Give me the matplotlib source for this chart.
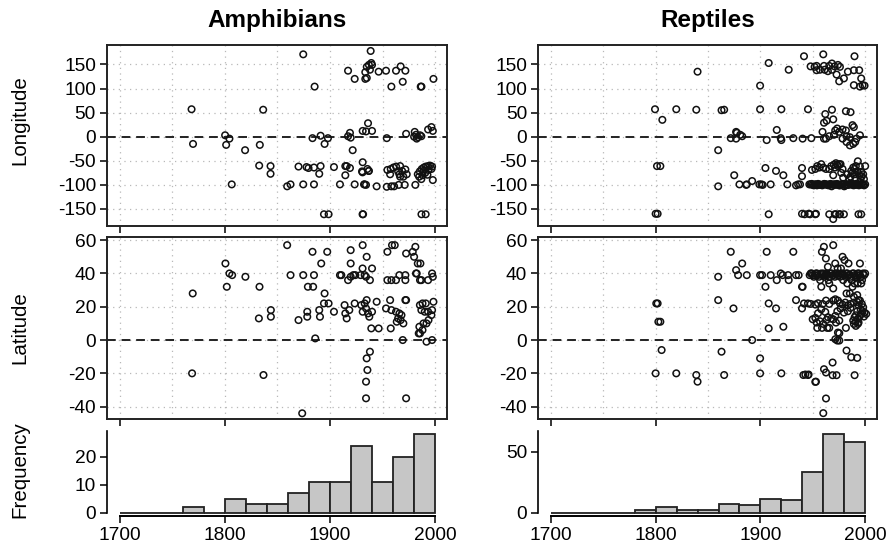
import matplotlib
matplotlib.use('Agg')
import matplotlib.pyplot as plt
from matplotlib.ticker import FixedLocator

plt.rcParams['font.family'] = ['Liberation Sans', 'DejaVu Sans']
plt.rcParams['axes.unicode_minus'] = False

# ---------------- data ----------------
titles = ["Amphibians", "Reptiles"]
row_labels = ["Longitude", "Latitude", "Frequency"]

hist_bins = [1700, 1720, 1740, 1760, 1780, 1800, 1820, 1840, 1860, 1880, 1900, 1920, 1940, 1960, 1980]
amph_counts = [0, 0, 0, 2, 0, 5, 3, 3, 7, 11, 11, 24, 11, 20, 28]
rept_counts = [0, 0, 0, 0, 2, 5, 2, 2, 7, 6, 11, 10, 33, 64, 58]

amph_lon_year = [1768.4, 1769.8, 1800.3, 1804.4, 1801.3, 1806.6, 1819.3, 1836.5, 1833.3, 1832.7, 1843.5, 1843.5,
                 1859.3, 1862.5, 1874.6, 1874.6, 1870.1, 1877.7, 1879.6, 1883.4, 1885.4, 1884.8, 1884.8, 1889.8,
                 1891.1, 1891.1, 1894.9, 1898.1, 1894.3, 1898.7,
                 1903.8, 1909.5, 1914.6, 1915.9, 1919.0, 1914.6, 1923.5, 1917.2, 1919.0, 1919.7, 1921.6,
                 1917.2, 1923.5, 1933.6, 1935.0, 1937.0, 1939.3, 1940.0, 1938.0, 1933.6, 1935.0, 1938.7, 1946.3,
                 1953.3, 1958.4, 1962.8, 1967.2, 1971.7, 1969.2, 1986.3, 1987.0, 1998.4,
                 1931.1, 1934.3, 1940.0, 1936.2,
                 1931.1, 1930.5, 1935.6, 1936.8, 1933.0, 1934.3, 1944.4, 1932.4, 1931.0, 1937.0,
                 1954.0,
                 1972.4, 1980.6, 1981.8, 1983.7, 1985.6, 1986.9, 1980.0, 1982.5,
                 1993.3, 1996.5, 1997.8,
                 1954.0, 1958.4, 1961.0, 1965.4, 1971.1, 1981.2,
                 1954.6, 1957.8, 1957.2, 1960.3, 1962.9, 1964.8, 1966.7, 1968.6, 1966.0, 1969.8, 1971.7, 1973.0, 1966.7,
                 1983.5, 1985.4, 1987.3, 1989.2, 1991.1, 1993.3, 1995.2, 1997.1, 1984.8, 1988.0, 1990.6, 1993.6,
                 1996.5, 1986.9, 1997.8, 1992.7, 1988.9,
                 1987.0, 1991.0, 1931.0, 1931.5]
amph_lon = [57, -15, 3, -4, -17, -99, -28, 56, -17, -60, -61, -77,
            -103, -99, -99, 171, -62, -63, -65, -3, 104, -99, -64, -77,
            -61, 2, -15, -3, -161, -161,
            -63, -99, -61, -61, -65, -80, -99, 1, 8, -2, -28,
            137, 120, 134, 145, 149, 153, 149, 139, 120, 122, 178, 135,
            137, 104, 137, 146, 137, 114, 104, 104, 120,
            12, 11, 12, 28,
            -53, -72, -67, -71, -99, -100, -103, -99, -74, -71,
            -3,
            6, 10, 4, -1, 3, 1, 0, -4,
            15, 20, 12,
            -104, -103, -103, -100, -100, -100,
            -69, -67, -78, -64, -62, -72, -61, -71, -78, -83, -68, -78, -83,
            -78, -72, -67, -64, -62, -61, -60, -62, -83, -80, -75, -69,
            -67, -88, -90, -79, -71,
            -161, -161, -161, -161]

amph_lat_year = [1769.5, 1768.9, 1800.6, 1804.4, 1807.0, 1801.9, 1819.6, 1833.0, 1832.4, 1843.8, 1843.8, 1836.8,
                 1859.3, 1862.5, 1870.1, 1874.6, 1873.6,
                 1883.4, 1884.8, 1879.0, 1884.0, 1878.4, 1878.4, 1886.0, 1889.8, 1890.5, 1891.7, 1894.9, 1894.3,
                 1898.7, 1897.4, 1903.8,
                 1909.5, 1910.8, 1917.2, 1919.7, 1922.2, 1924.1, 1919.7, 1919.7, 1931.1, 1934.9, 1931.0, 1933.0,
                 1938.0, 1940.0, 1929.1, 1934.3,
                 1913.9, 1914.6, 1915.9, 1918.4, 1923.5, 1929.8, 1933.0, 1934.3, 1936.2, 1937.4, 1934.9, 1940.0,
                 1944.4, 1931.1,
                 1939.3, 1946.3, 1957.8,
                 1938.0, 1934.9, 1935.6, 1934.3, 1934.3, 1972.4,
                 1954.6, 1959.0, 1961.6,
                 1954.6, 1958.4, 1962.8, 1966.0, 1971.7, 1971.7, 1981.8, 1982.5, 1985.6, 1993.3, 1997.1, 1997.8, 1986.9,
                 1972.4, 1978.7, 1980.0, 1981.2, 1983.5, 1986.0,
                 1953.3, 1958.4, 1962.8, 1966.0, 1964.8, 1967.2, 1969.8, 1971.7, 1972.4, 1957.2, 1963.5, 1968.0, 1969.2,
                 1985.5, 1988.0, 1991.1, 1986.9, 1990.1, 1993.3, 1996.5, 1997.1, 1998.4, 1993.7, 1991.8, 1988.9,
                 1985.0, 1985.6, 1988.0, 1991.8, 1997.1, 1984.4]
amph_lat = [28, -20, 46, 40, 39, 32, 38, 32, 13, 18, 14, -21,
            57, 39, 12, 39, -44,
            53, 39, 32, 32, 17, 14, 1, 18, 14, 46, 28, 22,
            22, 53, 17,
            39, 39, 36, 38, 39, 39, 54, 46, 57, 50, 43, 39,
            36, 43, 39, 38,
            21, 16, 13, 18, 22, 21, 22, 19, 16, 14, 24, 17,
            23, 17,
            7, 7, 7,
            -7, -11, -18, -25, -35, -35,
            53, 57, 57,
            36, 36, 36, 39, 39, 36, 40, 40, 36, 36, 40, 38, 36,
            52, 53, 50, 56, 46, 46,
            19, 18, 17, 16, 13, 12, 10, 24, 24, 24, 11, 15, 0,
            21, 22, 22, 18, 17, 17, 15, 18, 23, 12, 10, 10,
            8, 4, 6, -1, 0, 4]

rept_lon_year = [1799.4, 1819.7, 1838.8, 1806.4, 1840.0, 1801.3, 1804.5, 1800.0, 1801.9,
                 1859.7, 1859.7, 1862.9, 1865.4, 1871.7, 1876.8, 1876.8, 1882.6, 1875.0, 1880.0, 1887.0, 1892.1,
                 1899.7, 1899.7, 1899.0, 1901.0, 1907.9, 1906.0, 1904.8, 1909.8, 1914.9, 1915.6, 1920.0, 1919.4,
                 1920.0, 1921.9, 1925.7, 1927.0, 1931.4, 1934.0, 1936.0, 1937.8, 1939.7, 1939.7, 1941.6, 1945.4,
                 1948.6, 1949.2, 1939.7, 1946.0, 1953.0, 1947.9,
                 1960.0, 1989.8,
                 1951.7, 1953.6, 1956.8, 1961.3, 1964.4, 1965.7, 1968.3, 1970.8, 1974.0, 1975.9, 1972.7, 1975.2,
                 1979.7, 1983.5, 1989.2, 1994.3, 1996.2, 1989.2, 1995.0, 1997.5, 1999.4, 1968.3, 1953.6, 1960.7,
                 1961.9, 1968.3, 1981.6, 1986.0,
                 1960.7, 1963.2, 1969.5, 1959.3, 1962.6, 1971.4, 1973.3, 1975.2, 1978.4, 1981.6, 1982.2, 1985.4,
                 1989.2, 1987.9, 1965.7, 1970.2,
                 1978.4, 1982.2, 1985.4, 1988.6, 1990.5, 1991.7, 1995.0, 1960.7, 1940.3, 1880.7, 1877.5,
                 1886.4, 1902.2, 1946.7, 1952.4, 1954.3, 1956.2, 1958.1, 1960.0, 1962.6, 1965.7, 1969.5, 1971.4,
                 1973.3, 1975.2, 1977.1, 1979.0, 1982.9, 1984.8, 1986.0, 1987.9, 1989.8, 1991.1, 1993.0, 1995.0,
                 1996.8, 1998.8, 2000.0,
                 1989.9, 1992.4, 1994.3, 1996.2, 1998.1, 1991.1, 1995.6, 1988.6, 1986.7, 1967.6, 1970.2, 1972.1,
                 1974.0, 1976.5, 1978.4,
                 1948, 1950, 1952, 1954, 1956, 1958, 1960, 1962, 1964, 1966, 1968, 1970, 1972, 1974,
                 1976, 1978, 1980, 1982, 1984, 1986, 1988, 1990, 1992, 1994, 1996, 1998, 2000,
                 1949, 1951, 1953, 1955, 1957, 1959, 1961, 1963, 1965, 1967, 1969, 1971, 1973, 1975,
                 1977, 1979, 1981, 1983, 1985, 1987, 1989, 1991, 1993, 1995, 1997, 1999,
                 1907.9, 1942.2, 1947.3, 1952.4, 1965.7, 1969.5, 1972.0, 1975.2, 1979.7, 1993.6, 1996.2, 1976.0,
                 1971.0]
rept_lon = [57, 57, 56, 35, 135, -61, -61, -160, -160,
            -28, -103, 55, 56, -3, 10, -4, 1, -80, -99, -99, -92,
            106, 57, -99, -99, 153, -7, -65, -99, -71, 14, 57, -3,
            -7, -80, -99, 139, -3, -101, -99, -99, -65, -82, 167, 57,
            -3, -69, -160, -160, -160, 146,
            171, 167,
            145, 138, 139, 139, 136, 147, 152, 146, 149, 145, 129, 115,
            121, 135, 138, 138, 121, 107, 104, 107, 106, 139, 147, 147,
            47, 56, 53, 51,
            29, 33, 36, 10, -4, 13, 17, 10, 15, 13, 1, -1,
            20, 24, 1, 4,
            -4, -11, -18, -15, -11, -4, 3, -4, -4, 4, 8,
            -100, -100, -99, -67, -61, -64, -57, -64, -67, -67, -80, -64,
            -58, -57, -75, -85, -78, -88, -83, -75, -67, -61, -51, -62,
            -82, -88, -61,
            -78, -72, -80, -73, -78, -87, -89, -64, -71, -61, -58, -55,
            -61, -57, -67,
            -99, -100, -99, -101, -99, -100, -99, -99, -100, -99, -103, -99, -100, -99,
            -101, -99, -103, -99, -100, -99, -99, -100, -99, -101, -99, -100, -99,
            -98, -101, -99, -98, -100, -101, -98, -99, -101, -98, -100, -99, -98, -101,
            -99, -98, -101, -100, -98, -99, -101, -98, -100, -99, -98, -101,
            -161, -161, -161, -161, -161, -171, -161, -161, -161, -161, -161, -161,
            -161]

rept_lat_year = [1800.6, 1801.9, 1802.6, 1804.5, 1805.7, 1800.0, 1819.7, 1838.8, 1840.0, 1859.7, 1859.7, 1871.7,
                 1862.9, 1865.4, 1874.3,
                 1876.8, 1878.7, 1882.6, 1887.0, 1892.1, 1899.7, 1901.6, 1906.0, 1904.8, 1907.9, 1907.9, 1899.7,
                 1899.7, 1909.8, 1915.6, 1919.4, 1921.3, 1926.4, 1927.0, 1914.9, 1921.9, 1920.0, 1931.4, 1934.0,
                 1936.5, 1939.7, 1934.0, 1939.7, 1941.6, 1945.4, 1941.0, 1945.4, 1953.0, 1940.3,
                 1947, 1949, 1950, 1952, 1954, 1955, 1957, 1959, 1960, 1962, 1964, 1965, 1967, 1969, 1970, 1972,
                 1974, 1975, 1977, 1979, 1980, 1982, 1984, 1985, 1987, 1989, 1990, 1992, 1994, 1995, 1997, 1999, 2000,
                 1948, 1951, 1953, 1956, 1958, 1961, 1963, 1966, 1968, 1971, 1973, 1976, 1978, 1981, 1983, 1986,
                 1988, 1991, 1993, 1996, 1998,
                 1958.7, 1960.6, 1962.5, 1969.5, 1964.4, 1971.4, 1978.4, 1980.3, 1984.1, 1995.0, 1976.9, 1973.7,
                 1958.1, 1969.5, 1965.7, 1982.9, 1987.9, 1989.8, 1993.0, 1996.2, 1985.4, 1989.2, 1992.4, 1993.6, 1982.2,
                 1948.0, 1952.4, 1955.0, 1959.4, 1962.6, 1965.7, 1969.5, 1971.5, 1974.0, 1975.9, 1978.4, 1981.0,
                 1983.5, 1986.0, 1989.2, 1992.4, 1995.0, 1996.8, 1998.1, 1999.4, 2001.0, 1996.2, 1992.4, 1989.9,
                 1991.1, 1993.0, 1988.6, 1986.0, 1983.5, 1979.7, 1976.5, 1973.4, 1971.5, 1967.6, 1964.5, 1961.9,
                 1958.1, 1955.0, 1952.4, 1949.9, 1953.7, 1956.8, 1960.0, 1963.2, 1969.5, 1972.1, 1975.3,
                 1954.3, 1958.8, 1963.8, 1965.7, 1974.0, 1975.3, 1981.6, 1971.5, 1973.4, 1975.3,
                 1982.2, 1986.7, 1992.4, 1968.9, 1960.7, 1962.6, 1968.9, 1972.7, 1989.9, 1952.4, 1962.6, 1960.0,
                 1946.0, 1942.9,
                 1993.7, 1995.6, 1997.5, 1991.1, 1993.0, 1995.0, 1998.8, 1989.2, 1991.1, 1993.7]
rept_lat = [22, 22, 11, 11, -6, -20, -20, -21, -25, 24, 38, 53,
            -7, -21, 19,
            42, 39, 46, 39, 0, 39, 39, 53, 32, 22, 7, -11,
            -20, 39, 36, 40, 39, 39, 36, 19, 8, -20, 53, 39,
            39, 32, 24, 19, 22, 22, -21, -21, -25, 32,
            39, 40, 39, 39, 40, 39, 36, 39, 40, 39, 39, 36, 40, 39, 39, 40,
            39, 39, 40, 36, 39, 40, 39, 39, 36, 40, 39, 39, 40, 39, 36, 39, 40,
            40, 38, 40, 38, 40, 38, 40, 38, 40, 38, 40, 38, 40, 38, 40, 38,
            40, 38, 40, 38, 40,
            53, 56, 49, 57, 44, 46, 50, 48, 46, 46, 43, 43,
            32, 31, 34, 34, 32, 34, 34, 34, 28, 26, 27, 24, 28,
            21.7, 21.3, 22.1, 21.7, 23.7, 21.7, 23.7, 24.5, 23.7, 22.1, 21.3, 22.5,
            20.9, 21.7, 22.5, 22.9, 23.7, 21.7, 19.7, 16.5, 15.7, 15.7, 17.3, 13.7,
            11.3, 9.7, 11.7, 19.3, 17.3, 16.5, 18.9, 17.3, 14.5, 12.9, 13.7, 16.9,
            18.5, 16.1, 13.3, 12.5, 10.5, 11.3, 9.7, 12.1, 12.5, 10.5, 11.7,
            7.3, 7.3, 7.3, 7.3, 4.5, 4.1, 7.3, 0.5, -0.3, -0.3,
            -6.3, -10.3, -10.7, -13.5, -17.5, -19.5, -21.1, -21.1, -21.1, -25.1, -35.1, -43.9,
            -20.7, -20.7,
            20.9, 18.5, 17.3, 14.9, 12.9, 14.5, 14.1, 9.7, 8.5, 10.5]

lon_ticks = [-150, -100, -50, 0, 50, 100, 150]
lat_ticks = [-40, -20, 0, 20, 40, 60]
year_ticks = [1700, 1800, 1900, 2000]
freq_ticks = [[0, 10, 20], [0, 50]]

# ---------------- layout ----------------
W, H = 893, 549
fig = plt.figure(figsize=(W / 100, H / 100), dpi=100)


def ax_at(x0, y0, x1, y1):
    return fig.add_axes([x0 / W, 1 - y1 / H, (x1 - x0) / W, (y1 - y0) / H])


XLIM = (1688, 2011)
LW_BOX = 1.4
TICK_FS = 13.8


def style_scatter(ax, yticks, ylim):
    ax.set_xlim(*XLIM)
    ax.set_ylim(*ylim)
    ax.set_xticks(year_ticks)
    ax.xaxis.set_minor_locator(FixedLocator([1750, 1850, 1950]))
    ax.set_yticks(yticks)
    ax.tick_params(axis='x', which='major', labelbottom=False, direction='out', length=5, width=1.1)
    ax.tick_params(axis='x', which='minor', length=0)
    ax.tick_params(axis='y', direction='out', length=5, width=1.1, labelsize=TICK_FS, pad=3)
    ax.grid(True, which='both', linestyle=(0, (1, 3.5)), color='#b8b8b8', linewidth=0.9)
    ax.set_axisbelow(True)
    for s in ax.spines.values():
        s.set_linewidth(LW_BOX)
        s.set_color('#222222')
    ax.axhline(0, color='#222222', linestyle=(0, (4.5, 3)), linewidth=1.4, zorder=1)


def scatter(ax, x, y):
    ax.scatter(x, y, s=22, facecolors='none', edgecolors='#111111', linewidths=1.1, zorder=3)


cols = [(107, 446.7), (538.3, 876.7)]
lon_data = [(amph_lon_year, amph_lon), (rept_lon_year, rept_lon)]
lat_data = [(amph_lat_year, amph_lat), (rept_lat_year, rept_lat)]
counts = [amph_counts, rept_counts]

for c, (x0, x1) in enumerate(cols):
    a1 = ax_at(x0, 44.7, x1, 226.3)
    style_scatter(a1, lon_ticks, (-186, 191))
    scatter(a1, *lon_data[c])

    a2 = ax_at(x0, 237, x1, 419.3)
    style_scatter(a2, lat_ticks, (-47.6, 61.9))
    scatter(a2, *lat_data[c])

    a3 = ax_at(x0, 431.3, x1, 515.8)
    a3.bar(hist_bins, counts[c], width=20, align='edge', color='#c6c6c6',
           edgecolor='#222222', linewidth=1.3, zorder=2)
    top = max(counts[c]) * 1.04
    a3.set_xlim(*XLIM)
    a3.set_ylim(-max(counts[c]) * 0.04, top)
    a3.set_xticks(year_ticks)
    a3.set_yticks(freq_ticks[c])
    for s in ('top', 'right'):
        a3.spines[s].set_visible(False)
    a3.spines['left'].set_bounds(0, top)
    a3.spines['bottom'].set_bounds(1700, 2000)
    a3.spines['left'].set_linewidth(1.2)
    a3.spines['bottom'].set_linewidth(1.4)
    a3.tick_params(axis='x', direction='out', length=5, width=1.1, labelsize=TICK_FS, pad=3)
    a3.tick_params(axis='y', direction='out', length=5, width=1.1, labelsize=TICK_FS, pad=3)

    fig.text((x0 + x1) / 2 / W, 1 - 20 / H, titles[c], ha='center', va='center',
             fontsize=17.5, fontweight='bold')

fig.text(20 / W, 1 - 120 / H, row_labels[0], rotation=90, ha='center', va='center', fontsize=14.8)
fig.text(20 / W, 1 - 328 / H, row_labels[1], rotation=90, ha='center', va='center', fontsize=14.8)
fig.text(20 / W, 1 - 470 / H, row_labels[2], rotation=90, ha='center', va='center', fontsize=14.8)

fig.savefig('out.png', dpi=100)
